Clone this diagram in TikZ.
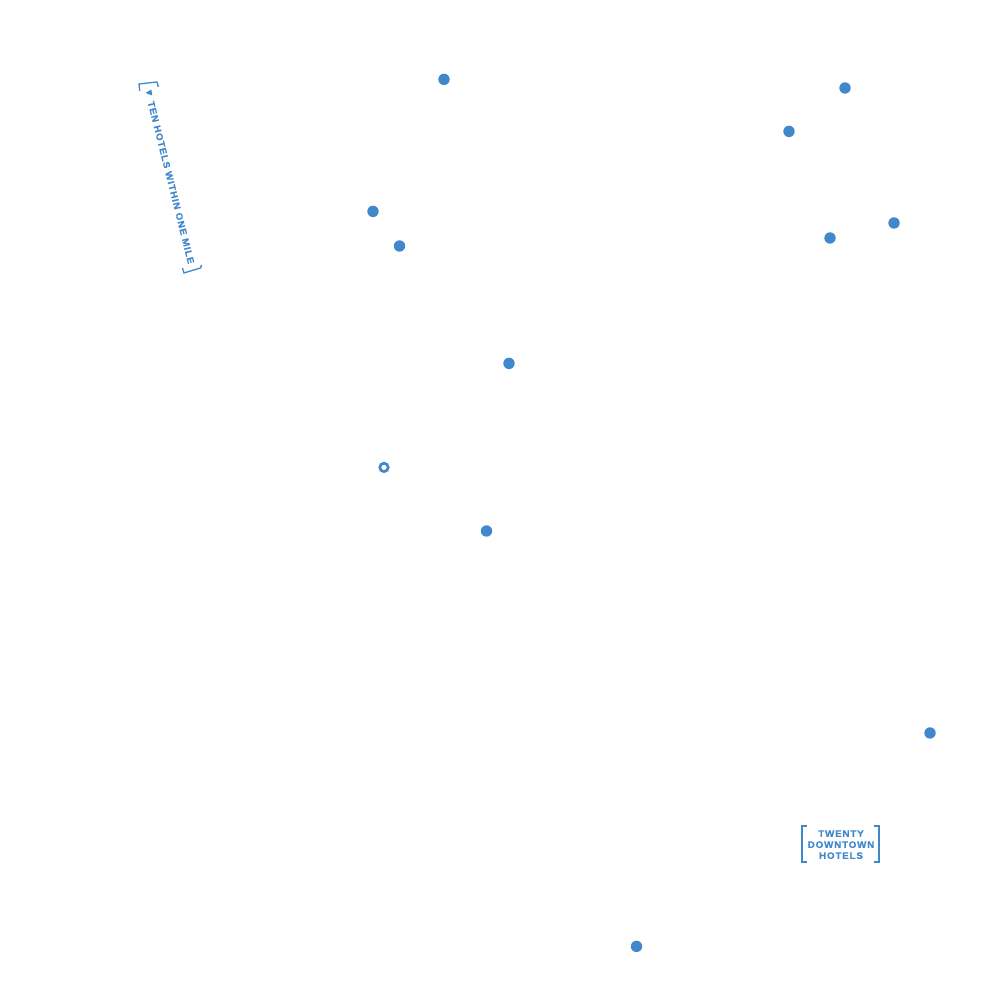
\documentclass[tikz,border=0pt]{standalone}
\usepackage{fontspec}
\setmainfont{Liberation Sans}
\newfontfamily\labelfont[LetterSpace=9,FakeStretch=1.05,FakeBold=0.6,Ligatures=NoCommon]{Liberation Sans}
\definecolor{hotelblue}{HTML}{4087CB}
\tikzset{
  hotel/.style={circle, fill=hotelblue, inner sep=0pt, minimum size=1.14mm},
  origin/.style={circle, draw=hotelblue, line width=0.27mm, fill=white, inner sep=0pt, minimum size=0.84mm},
  maplabel/.style={text=hotelblue, font=\labelfont\bfseries\fontsize{2.65pt}{3.13pt}\selectfont, inner sep=0pt, align=center},
  bracket/.style={draw=hotelblue, line width=0.13mm}
}

\begin{document}
\begin{tikzpicture}
  \useasboundingbox (0,0) rectangle (10,10);
  \node[hotel] (h1) at (4.44,9.206) {};
  \node[hotel] (h2) at (8.45,9.12) {};
  \node[hotel] (h3) at (7.89,8.686) {};
  \node[hotel] (h4) at (3.73,7.886) {};
  \node[hotel] (h5) at (3.995,7.54) {};
  \node[hotel] (h6) at (8.94,7.77) {};
  \node[hotel] (h7) at (8.30,7.62) {};
  \node[hotel] (h8) at (5.09,6.366) {};
  \node[hotel] (h9) at (4.865,4.69) {};
  \node[hotel] (h10) at (9.30,2.67) {};
  \node[hotel] (h11) at (6.365,0.536) {};
  \node[origin] (center) at (3.84,5.326) {};
  \node[maplabel, rotate=-76] (mile) at (1.71,8.175) {TEN HOTELS WITHIN ONE MILE};
  \node[maplabel] (downtown) at (8.41,1.553) {TWENTY\\DOWNTOWN\\HOTELS};
  % brackets and arrow
  \draw[bracket] (1.397,9.09) -- (1.39,9.16) -- (1.57,9.18) -- (1.583,9.13);
  \draw[bracket] (1.825,7.32) -- (1.84,7.27) -- (2.005,7.32) -- (2.015,7.35);
  \fill[hotelblue] (1.455,9.07) -- (1.513,9.105) -- (1.523,9.045) -- cycle;
  \draw[bracket] (8.07,1.74) -- (8.02,1.74) -- (8.02,1.38) -- (8.07,1.38);
  \draw[bracket] (8.74,1.74) -- (8.79,1.74) -- (8.79,1.38) -- (8.74,1.38);
\end{tikzpicture}
\end{document}
